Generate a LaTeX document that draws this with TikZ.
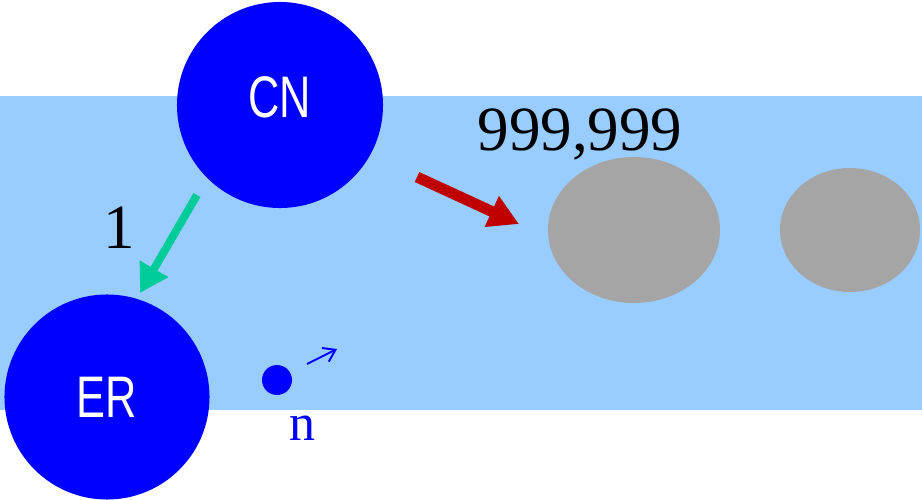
\documentclass[tikz,border=0pt]{standalone}
\usepackage{fontspec}
\setmainfont{Liberation Serif}
\newfontfamily\narrowsans[FakeStretch=0.74]{Liberation Sans}
\usetikzlibrary{arrows.meta,shapes.geometric}
\definecolor{bandblue}{HTML}{99CCFF}
\definecolor{nodeblue}{HTML}{0000FF}
\definecolor{ballgray}{HTML}{A5A5A5}
\definecolor{arrowgreen}{HTML}{00CC99}
\definecolor{arrowred}{HTML}{C00000}
\tikzset{
  bignode/.style={circle, fill=nodeblue, inner sep=0pt, minimum size=5.15cm,
    text=white, font=\narrowsans\fontsize{41.7}{48}\selectfont},
  ball/.style={ellipse, fill=ballgray, inner sep=0pt},
  numlabel/.style={anchor=base, inner sep=0pt, font=\fontsize{44.8}{52}\selectfont},
  greenarrow/.style={draw=arrowgreen, line width=5.7pt,
    -{Triangle[length=0.7cm,width=0.78cm]}},
  redarrow/.style={draw=arrowred, line width=7.8pt,
    -{Triangle[length=0.75cm,width=0.8cm]}},
  smallarrow/.style={draw=nodeblue, line width=1.4pt,
    -{Straight Barb[length=0.28cm,width=0.38cm]}}
}
\begin{document}
\begin{tikzpicture}[x=0.025cm, y=-0.025cm]
\useasboundingbox (0,0) rectangle (922,500);
\fill[bandblue] (0,96) rectangle (922,410);
\node[bignode, text depth=0.4cm] (CN) at (280,105) {CN};
\node[bignode, minimum size=5.125cm] (ER) at (107,397) {ER};
\node[ball, minimum width=4.3cm, minimum height=3.65cm] (E1) at (634,230) {};
\node[ball, minimum width=3.5cm, minimum height=3.1cm] (E2) at (850,230) {};
\node[numlabel] (big) at (580,150) {999,999};
\node[numlabel] (one) at (119,248) {1};
\node[circle, fill=nodeblue, inner sep=0pt, minimum size=0.75cm] (dot) at (277,380) {};
\node[anchor=base, inner sep=0pt, text=nodeblue, font=\fontsize{37}{44}\selectfont] (n) at (303,440) {n};
\coordinate (gs) at (197,195);
\coordinate (ge) at (140,293);
\draw[greenarrow] (gs) -- (ge);
\coordinate (rs) at (417,177);
\coordinate (re) at (519,224);
\draw[redarrow] (rs) -- (re);
\coordinate (ss) at (307,364);
\coordinate (se) at (337,349);
\draw[smallarrow] (ss) -- (se);
\end{tikzpicture}
\end{document}
